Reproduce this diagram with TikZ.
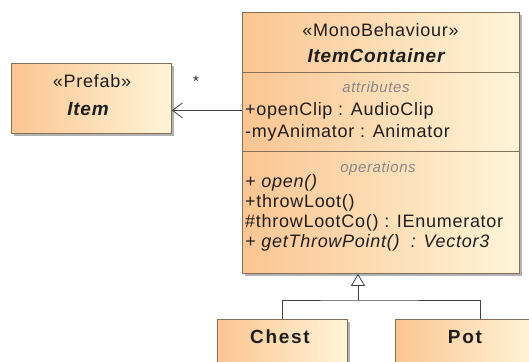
\documentclass[tikz,border=0pt]{standalone}
\usepackage{fontspec}
\setmainfont{Liberation Sans}[LetterSpace=4]
\newfontfamily\widefont{Liberation Sans}[LetterSpace=9]
\usetikzlibrary{arrows.meta,shadows}

\definecolor{boxleft}{RGB}{251,197,146}
\definecolor{boxright}{RGB}{255,245,216}
\definecolor{boxline}{RGB}{135,112,88}
\definecolor{txtdark}{RGB}{30,30,30}
\definecolor{txtgrey}{RGB}{135,135,135}

\begin{document}
\begin{tikzpicture}[x=1pt,y=-1pt,
  umlbox/.style={draw=boxline, line width=0.8pt, left color=boxleft, right color=boxright,
    drop shadow={shadow xshift=3pt, shadow yshift=-3pt, fill=black!30, opacity=1}},
  divider/.style={draw=boxline, line width=0.8pt},
  txt/.style={inner sep=0pt, text=txtdark, font=\fontsize{18}{20}\selectfont},
  itxt/.style={txt, font=\fontsize{18}{20}\selectfont\itshape},
  titletxt/.style={txt, font=\fontsize{19}{22}\selectfont\bfseries\itshape},
  comptxt/.style={inner sep=0pt, text=txtgrey, font=\fontsize{15}{16}\selectfont\itshape},
  classtxt/.style={txt, font=\fontsize{19}{22}\selectfont\widefont\bfseries},
  link/.style={draw=black!75, line width=0.8pt}
]
\useasboundingbox (0,0) rectangle (529,361);
\clip (0,0) rectangle (529,361);

% class boxes
\node[umlbox, minimum width=277pt, minimum height=261pt, anchor=north west] (container) at (242,12) {};
\node[umlbox, minimum width=160pt, minimum height=70pt, anchor=north west] (item) at (11,63) {};
\node[umlbox, minimum width=130pt, minimum height=52pt, anchor=north west] (chest) at (217,319) {};
\node[umlbox, minimum width=140pt, minimum height=52pt, anchor=north west] (pot) at (395,319) {};

% compartments of ItemContainer
\draw[divider] ([yshift=-60pt]container.north west) -- ([yshift=-60pt]container.north east);
\draw[divider] ([yshift=-139pt]container.north west) -- ([yshift=-139pt]container.north east);

% ItemContainer texts
\node[txt, anchor=base] (icst) at (380.5,37) {«MonoBehaviour»};
\node[titletxt, anchor=base] (icname) at (376,63) {ItemContainer};
\node[comptxt, anchor=base] (attrlbl) at (376,92) {attributes};
\node[txt, anchor=base west] (attr1) at (245,115) {+openClip : AudioClip};
\node[txt, anchor=base west] (attr2) at (245,137) {-myAnimator : Animator};
\node[comptxt, anchor=base] (oplbl) at (378,172) {operations};
\node[itxt, anchor=base west] (op1) at (245,187) {+ open()};
\node[txt, anchor=base west] (op2) at (245,207) {+throwLoot()};
\node[txt, anchor=base west] (op3) at (245,227) {\#throwLootCo() : IEnumerator};
\node[itxt, anchor=base west] (op4) at (245,247) {+ getThrowPoint()~ : Vector3};

% Item texts
\node[txt, anchor=base] (itst) at (92,87) {«Prefab»};
\node[titletxt, anchor=base] (itname) at (88,115) {Item};

% subclass names
\node[classtxt, anchor=base] (chestname) at (280,343) {Chest};
\node[classtxt, anchor=base] (potname) at (465,343) {Pot};

% association ItemContainer -> Item
\coordinate (itemend) at ([yshift=-12pt]item.east);
\draw[link, -{Straight Barb[length=10pt, width=15pt]}] (container.west |- itemend) -- (itemend);
\node[txt, font=\fontsize{15}{16}\selectfont] (mult) at (196,81) {*};

% generalization Chest, Pot -> ItemContainer
\coordinate (gen) at (358,300);
\draw[link] (chest.north) |- (gen) -| ([xshift=15pt]pot.north);
\draw[link, -{Triangle[open, length=12pt, width=14pt, fill=white]}] (gen) -- (gen |- container.south);
\end{tikzpicture}
\end{document}
